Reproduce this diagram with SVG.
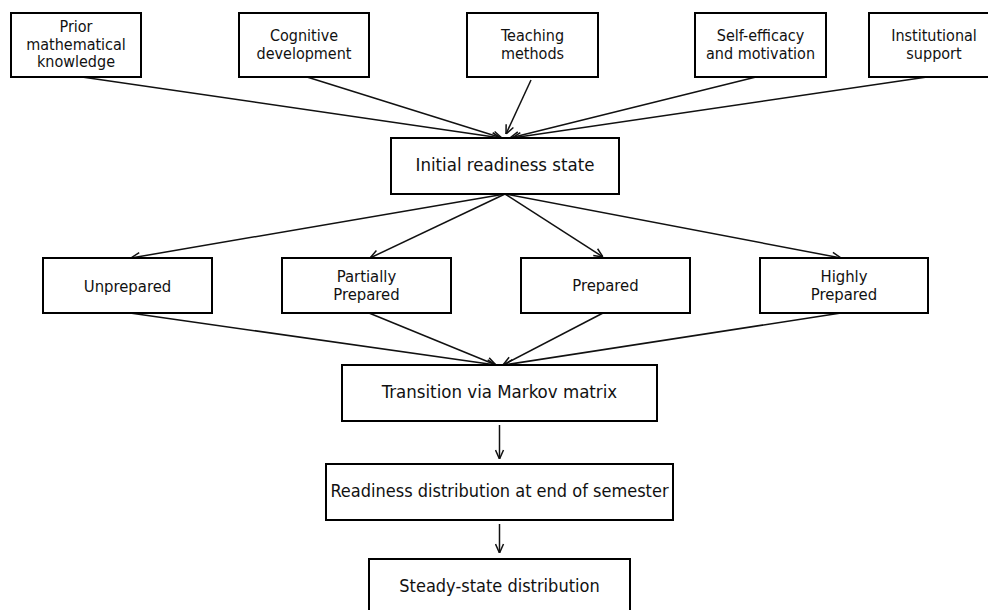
<svg xmlns="http://www.w3.org/2000/svg" width="988" height="610" viewBox="0 0 988 610">
<defs>
<style>
.box{fill:#fff;stroke:#000;stroke-width:2}
text{font-family:"DejaVu Sans Condensed","DejaVu Sans",sans-serif;fill:#111;text-anchor:middle}
.s{font-size:16px}
.m{font-size:16.5px}
.l{font-size:18px}
.xl{font-size:18.5px}
.c{fill:none;stroke:#111;stroke-width:1.5}
</style>
<marker id="ah" viewBox="0 0 10 10" refX="10" refY="5" markerWidth="10" markerHeight="10" markerUnits="userSpaceOnUse" orient="auto">
<path d="M1,1 L10,5 L1,9" fill="none" stroke="#111" stroke-width="1.5"/>
</marker>
</defs>
<rect width="988" height="610" fill="#fff"/>
<g id="connectors">
<line class="c" marker-end="url(#ah)" x1="82" y1="77" x2="501" y2="138"/>
<line class="c" marker-end="url(#ah)" x1="307" y1="77" x2="502" y2="138"/>
<line class="c" marker-end="url(#ah)" x1="531" y1="80" x2="506" y2="134"/>
<line class="c" marker-end="url(#ah)" x1="756" y1="77" x2="510" y2="138"/>
<line class="c" marker-end="url(#ah)" x1="927" y1="77" x2="512" y2="138"/>
<line class="c" marker-end="url(#ah)" x1="505" y1="194" x2="131" y2="258"/>
<line class="c" marker-end="url(#ah)" x1="505" y1="194" x2="370" y2="258"/>
<line class="c" marker-end="url(#ah)" x1="505" y1="194" x2="603" y2="257"/>
<line class="c" marker-end="url(#ah)" x1="505" y1="194" x2="841" y2="258"/>
<line class="c" marker-end="url(#ah)" x1="130" y1="313" x2="496" y2="365"/>
<line class="c" marker-end="url(#ah)" x1="369" y1="313" x2="496" y2="365"/>
<line class="c" marker-end="url(#ah)" x1="603" y1="313" x2="503" y2="365"/>
<line class="c" marker-end="url(#ah)" x1="841" y1="313" x2="504" y2="365"/>
<line class="c" marker-end="url(#ah)" x1="499.5" y1="425" x2="499.5" y2="459"/>
<line class="c" marker-end="url(#ah)" x1="499.5" y1="524" x2="499.5" y2="553"/>
</g>
<g id="prior"><rect class="box" x="11" y="13" width="130" height="64"/><text class="s" x="76" y="32">Prior</text><text class="s" x="76" y="49.5">mathematical</text><text class="s" x="76" y="67">knowledge</text></g>
<g id="cognitive"><rect class="box" x="239" y="13" width="130" height="64"/><text class="s" x="304" y="41">Cognitive</text><text class="s" x="304" y="58.5">development</text></g>
<g id="teaching"><rect class="box" x="467" y="13" width="131" height="64"/><text class="s" x="532.5" y="41">Teaching</text><text class="s" x="532.5" y="58.5">methods</text></g>
<g id="selfefficacy"><rect class="box" x="695" y="13" width="131" height="64"/><text class="s" x="760.5" y="41">Self-efficacy</text><text class="s" x="760.5" y="58.5">and motivation</text></g>
<g id="institutional"><rect class="box" x="869" y="13" width="131" height="64"/><text class="s" x="934" y="41">Institutional</text><text class="s" x="934" y="58.5">support</text></g>
<g id="initial"><rect class="box" x="391" y="138" width="228" height="56"/><text class="xl" x="505" y="171">Initial readiness state</text></g>
<g id="unprepared"><rect class="box" x="43" y="258" width="169" height="55"/><text class="m" x="127.5" y="291.5">Unprepared</text></g>
<g id="partially"><rect class="box" x="282" y="258" width="169" height="55"/><text class="m" x="366.5" y="281.5">Partially</text><text class="m" x="366.5" y="300">Prepared</text></g>
<g id="prepared"><rect class="box" x="521" y="258" width="169" height="55"/><text class="m" x="605.5" y="291">Prepared</text></g>
<g id="highly"><rect class="box" x="760" y="258" width="168" height="55"/><text class="m" x="844" y="281.5">Highly</text><text class="m" x="844" y="300">Prepared</text></g>
<g id="transition"><rect class="box" x="342" y="365" width="315" height="56"/><text class="xl" x="499.5" y="398">Transition via Markov matrix</text></g>
<g id="readiness"><rect class="box" x="326" y="464" width="347" height="56"/><text class="l" x="499.5" y="496.5">Readiness distribution at end of semester</text></g>
<g id="steady"><rect class="box" x="369" y="559" width="261" height="56"/><text class="l" x="499.5" y="592">Steady-state distribution</text></g>
</svg>
